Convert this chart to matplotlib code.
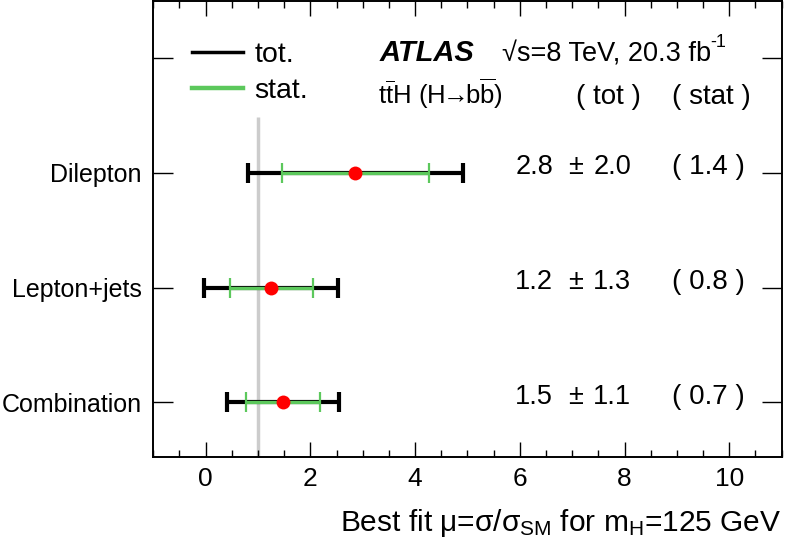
import numpy as np
import matplotlib
matplotlib.use('Agg')
import matplotlib.pyplot as plt
from matplotlib.lines import Line2D

plt.rcParams['font.family'] = ['Liberation Sans', 'DejaVu Sans']
plt.rcParams['mathtext.fontset'] = 'custom'
plt.rcParams['mathtext.rm'] = 'Liberation Sans'
plt.rcParams['mathtext.it'] = 'Liberation Sans'
plt.rcParams['mathtext.bf'] = 'Liberation Sans:bold'

# 数据 (best fit mu with total / stat intervals)
categories = ['Dilepton', 'Lepton+jets', 'Combination']
ypos = [3, 2, 1]
mu = [2.85, 1.25, 1.47]
tot_lo = [0.80, -0.03, 0.41]
tot_hi = [4.91, 2.53, 2.55]
stat_lo = [1.46, 0.46, 0.78]
stat_hi = [4.26, 2.05, 2.18]
mu_txt = ['2.8', '1.2', '1.5']
tot_txt = ['2.0', '1.3', '1.1']
stat_txt = ['1.4', '0.8', '0.7']
sm_value = 1.0

green = '#5cc85c'
fs = 19.5

fig = plt.figure(figsize=(7.86, 5.53), dpi=100)
ax = fig.add_axes([0.195, 0.1736, 0.7995, 0.8246])

ax.set_xlim(-1, 11)
ax.set_ylim(0.523, 4.497)

# SM line
ax.vlines(sm_value, 0.523, 3.49, color='#cccccc', lw=2.5, zorder=1)

mu = np.array(mu)
tot_err = [mu - np.array(tot_lo), np.array(tot_hi) - mu]
stat_err = [mu - np.array(stat_lo), np.array(stat_hi) - mu]

ax.errorbar(mu, ypos, xerr=tot_err, fmt='none', ecolor='black', elinewidth=3,
            capsize=7.5, capthick=3, zorder=2)
ax.errorbar(mu, ypos, xerr=stat_err, fmt='none', ecolor=green, elinewidth=2.4,
            capsize=7, capthick=1.6, zorder=3)
ax.plot(mu, ypos, 'o', color='#ff0000', ms=10, mec='none', zorder=4)

# text columns
for i in range(3):
    y = ypos[i] - 0.015
    ax.text(5.91, y, mu_txt[i], fontsize=fs, va='baseline', ha='left')
    ax.text(6.92, y, '±', fontsize=fs, va='baseline', ha='left')
    ax.text(7.40, y, tot_txt[i], fontsize=fs, va='baseline', ha='left')
    ax.text(8.90, y, '( ' + stat_txt[i] + ' )', fontsize=20, va='baseline', ha='left')

ax.text(3.33, 3.973, 'ATLAS', fontsize=21, fontweight='bold', fontstyle='italic',
        va='baseline', ha='left')
t = ax.text(5.65, 3.973, '√s=8 TeV, 20.3 fb', fontsize=fs, va='baseline', ha='left')
ax.annotate('-1', xy=(1.0, 0.62), xycoords=t, fontsize=13, va='bottom', ha='left')
ax.text(3.29, 3.595, r't$\overline{\mathrm{t}}$H (H$\!\!\rightarrow\!\!$b$\overline{\mathrm{b}}$)',
        fontsize=18.5, va='baseline', ha='left')
ax.text(7.08, 3.595, '( tot )', fontsize=20, va='baseline', ha='left')
ax.text(8.90, 3.595, '( stat )', fontsize=20, va='baseline', ha='left')

handles = [Line2D([], [], color='black', lw=2.5),
           Line2D([], [], color=green, lw=3.2)]
ax.legend(handles, ['tot.', 'stat.'], loc='upper left', bbox_to_anchor=(0.061, 0.911),
          frameon=False, fontsize=20.5, handlelength=1.8, handletextpad=0.4,
          labelspacing=0.38, borderpad=0, borderaxespad=0)

# axes styling
ax.set_yticks(ypos + [4])
ax.set_yticklabels(categories + [''])
ax.set_xticks(np.arange(0, 11, 2))
ax.set_xticks(np.arange(-1, 11.01, 0.5), minor=True)
ax.tick_params(axis='both', which='both', direction='in', top=True, right=True, width=1)
ax.tick_params(axis='x', which='major', length=11, pad=7, labelsize=19)
ax.tick_params(axis='x', which='minor', length=5)
ax.tick_params(axis='y', which='major', length=14.5, pad=8.4, labelsize=18)
ax.tick_params(axis='y', which='minor', left=False, right=False)
for s in ax.spines.values():
    s.set_linewidth(1.4)

ax.set_xlabel(r'Best fit $\mu$=$\sigma$/$\sigma_{\mathrm{SM}}$ for m$_{\mathrm{H}}$=125 GeV',
              fontsize=21.5, loc='right', labelpad=12)

fig.savefig('out.png', dpi=100)
